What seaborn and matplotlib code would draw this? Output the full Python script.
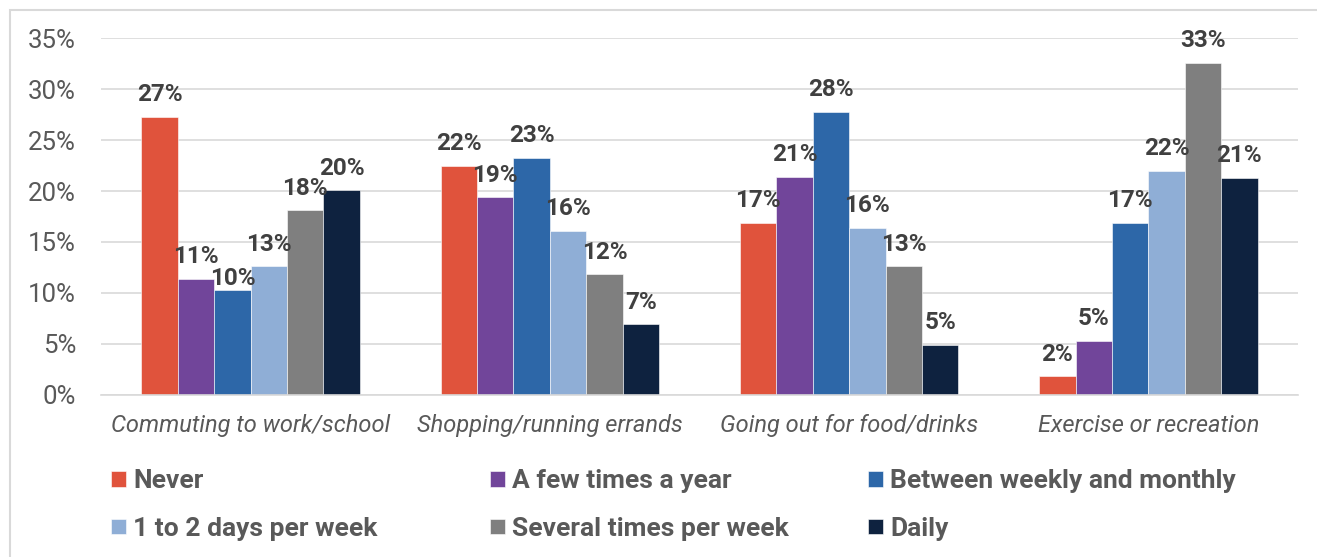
import matplotlib
matplotlib.use("Agg")
import matplotlib.pyplot as plt
from matplotlib.patches import Rectangle
import pandas as pd
import seaborn as sns

activities = [
    "Commuting to work/school",
    "Shopping/running errands",
    "Going out for food/drinks",
    "Exercise or recreation",
]
frequencies = [
    "Never",
    "A few times a year",
    "Between weekly and monthly",
    "1 to 2 days per week",
    "Several times per week",
    "Daily",
]
# share of respondents (%) per activity, one list per frequency
never = [27.3, 22.5, 16.9, 1.8]
few_times_year = [11.4, 19.4, 21.4, 5.3]
weekly_monthly = [10.3, 23.3, 27.8, 16.9]
one_two_days = [12.6, 16.1, 16.4, 22.0]
several_week = [18.1, 11.8, 12.6, 32.6]
daily = [20.1, 6.9, 4.9, 21.3]
y_ticks = [0, 5, 10, 15, 20, 25, 30, 35]

colors = ["#E0533C", "#71459A", "#2D67A8", "#8FAED6", "#7F7F7F", "#0E223F"]

series = [never, few_times_year, weekly_monthly, one_two_days, several_week, daily]
rows = []
for freq, vals in zip(frequencies, series):
    for act, v in zip(activities, vals):
        rows.append({"activity": act, "frequency": freq, "share": v})
df = pd.DataFrame(rows)

sns.set_theme(style="white")
plt.rcParams["font.family"] = ["Roboto", "DejaVu Sans"]

fig = plt.figure(figsize=(13.17, 5.57), dpi=100)
ax = fig.add_axes([0.0767, 0.2917, 0.9089, 0.6392])

sns.barplot(
    data=df, x="activity", y="share", hue="frequency",
    order=activities, hue_order=frequencies, palette=colors,
    width=0.73, gap=0, saturation=1, ax=ax,
    edgecolor="white", linewidth=0.4,
)

value_labels = []
for cont in ax.containers:
    value_labels.append(ax.bar_label(
        cont, labels=[f"{round(b.get_height()):.0f}%" for b in cont],
        padding=7.5, fontsize=17.5, fontweight="bold", color="#404040"))

# tuck the short "between weekly and monthly" commuting label down so it
# clears its taller neighbour's label
value_labels[2][0].xyann = (0, 0)

ax.set_ylim(0, 35)
ax.set_xlim(-0.5, 3.5)
ax.set_yticks(y_ticks)
ax.set_yticklabels([f"{t}%" for t in y_ticks])
ax.yaxis.grid(True, color="#D9D9D9", linewidth=1.2)
ax.set_axisbelow(True)
for s in ["top", "right", "left"]:
    ax.spines[s].set_visible(False)
ax.spines["bottom"].set_color("#D9D9D9")
ax.spines["bottom"].set_linewidth(1.2)
ax.tick_params(axis="y", length=0, pad=18, labelsize=18.5, labelcolor="#595959")
ax.tick_params(axis="x", length=0, pad=14, labelsize=17, labelcolor="#595959")
for lbl in ax.get_xticklabels():
    lbl.set_fontstyle("italic")
ax.set_xlabel("")
ax.set_ylabel("")

# legend: three fixed-width columns, two rows (filled row by row)
handles, labels = ax.get_legend_handles_labels()
ax.legend_.remove()
col_x = [111, 490, 868]
for c, x0 in enumerate(col_x):
    idx = [c, c + 3]
    fig.legend(
        [handles[i] for i in idx], [labels[i] for i in idx],
        ncol=1, loc="center left",
        bbox_to_anchor=(x0 / 1317, 1 - 505 / 557), frameon=False,
        prop={"weight": "bold", "size": 19},
        labelcolor="#595959", handlelength=0.55, handleheight=0.55,
        handletextpad=0.3, labelspacing=0.9, borderpad=0, borderaxespad=0,
    )

# outer chart frame
fig.patches.append(Rectangle((10 / 1317, -0.2), 1.1, 1.2 - 10 / 557,
                             transform=fig.transFigure, fill=False,
                             edgecolor="#D9D9D9", linewidth=1.5))

fig.savefig("out.png", dpi=100)
